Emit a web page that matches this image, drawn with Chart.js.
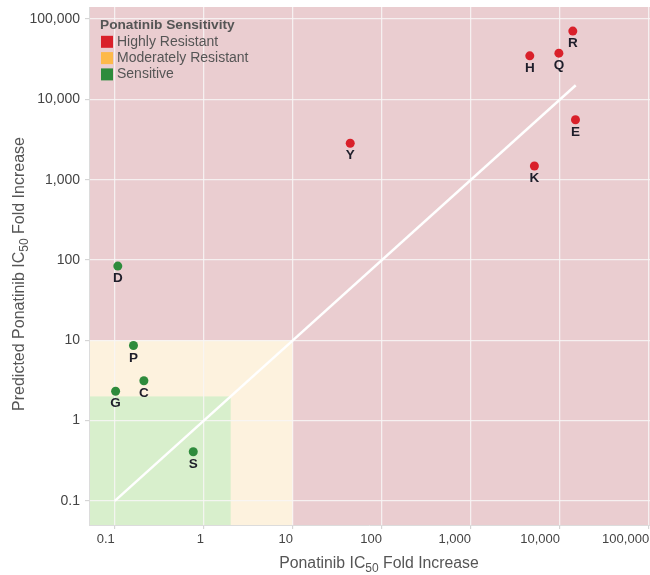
<!DOCTYPE html>
<html><head><meta charset="utf-8">
<script src="https://cdn.jsdelivr.net/npm/chart.js@4/dist/chart.umd.min.js"></script>
<style>
html,body{margin:0;padding:0;background:#fff;overflow:hidden;width:650px;height:575px}
#wrap{position:relative;width:700px;height:575px}
</style>
</head><body><div id="wrap"><canvas id="c"></canvas></div>
<script>
// ---- data ----
const mutations     = ['R', 'Q', 'H', 'E', 'K', 'Y', 'D', 'P', 'C', 'G', 'S'];
const ic50Fold      = [13900, 9700, 4570, 14900, 5150, 44, 0.108, 0.162, 0.212, 0.102, 0.76];
const predictedFold = [70800, 37600, 34800, 5570, 1480, 2840, 84, 8.6, 3.13, 2.32, 0.41];
const sensitivity   = ['Highly Resistant','Highly Resistant','Highly Resistant','Highly Resistant','Highly Resistant','Highly Resistant',
                       'Sensitive','Sensitive','Sensitive','Sensitive','Sensitive'];
const sensitivityClasses = ['Highly Resistant', 'Moderately Resistant', 'Sensitive'];
const classColors   = ['#d9202a', '#fdb94a', '#2e8b3c'];
const tickValues    = [0.1, 1, 10, 100, 1000, 10000, 100000];
const identityLine  = [0.1, 15000];
const moderateCutoff = 10;
const sensitiveCutoff = 2;
const legendTitle = 'Ponatinib Sensitivity';
const xTitleParts = ['Ponatinib IC', '50', ' Fold Increase'];
const yTitleParts = ['Predicted Ponatinib IC', '50', ' Fold Increase'];

const FONT = '"Liberation Sans", Arial, Helvetica, sans-serif';

const scatterSets = sensitivityClasses.map((cls, k) => ({
  type: 'scatter',
  label: cls,
  order: 0,
  data: mutations.map((m, i) => ({x: ic50Fold[i], y: predictedFold[i], label: m}))
                 .filter((p, i) => sensitivity[i] === cls),
  backgroundColor: classColors[k],
  borderColor: classColors[k],
  pointRadius: 4.5,
  pointHoverRadius: 4.5,
  borderWidth: 0
}));

const lineSet = {
  type: 'line',
  label: 'identity',
  order: 10,
  data: identityLine.map(v => ({x: v, y: v})),
  borderColor: '#ffffff',
  borderWidth: 2.5,
  pointRadius: 0,
  fill: false
};

const regionPlugin = {
  id: 'regions',
  beforeDraw(chart) {
    const {ctx, chartArea: a, scales: {x, y}} = chart;
    ctx.save();
    ctx.fillStyle = '#eacdd0';
    ctx.fillRect(a.left, a.top, a.right - a.left, a.bottom - a.top);
    const xm = x.getPixelForValue(moderateCutoff), ym = y.getPixelForValue(moderateCutoff);
    ctx.fillStyle = '#fdf2de';
    ctx.fillRect(a.left, ym, xm - a.left, a.bottom - ym);
    const xs = x.getPixelForValue(sensitiveCutoff), ys = y.getPixelForValue(sensitiveCutoff);
    ctx.fillStyle = '#d8efcc';
    ctx.fillRect(a.left, ys, xs - a.left, a.bottom - ys);
    ctx.restore();
  }
};

function drawSub(ctx, parts, size) {
  const big = size + 'px ' + FONT, small = Math.round(size * 0.78) + 'px ' + FONT;
  ctx.font = big; const w0 = ctx.measureText(parts[0]).width, w2 = ctx.measureText(parts[2]).width;
  ctx.font = small; const w1 = ctx.measureText(parts[1]).width;
  const total = w0 + w1 + w2;
  let cx = -total / 2;
  ctx.textAlign = 'left'; ctx.textBaseline = 'middle';
  ctx.font = big; ctx.fillText(parts[0], cx, 0); cx += w0;
  ctx.font = small; ctx.fillText(parts[1], cx, size * 0.28); cx += w1;
  ctx.font = big; ctx.fillText(parts[2], cx, 0);
}

const annotPlugin = {
  id: 'annot',
  afterDatasetsDraw(chart) {
    const {ctx, chartArea: a} = chart;
    ctx.save();
    // point labels
    ctx.fillStyle = '#1e1e2a';
    ctx.font = 'bold 13.5px ' + FONT;
    ctx.textAlign = 'center'; ctx.textBaseline = 'middle';
    chart.data.datasets.forEach((ds, di) => {
      if (ds.type !== 'scatter') return;
      const meta = chart.getDatasetMeta(di);
      meta.data.forEach((el, i) => {
        ctx.fillText(ds.data[i].label, el.x, el.y + 12.5);
      });
    });
    // legend
    const lx = a.left + 11, ly = 25.5;
    ctx.textAlign = 'left'; ctx.textBaseline = 'middle';
    ctx.fillStyle = '#555';
    ctx.font = 'bold 13.7px ' + FONT;
    ctx.fillText(legendTitle, lx, ly);
    ctx.font = '14px ' + FONT;
    sensitivityClasses.forEach((cls, k) => {
      const yy = ly + 16.3 * (k + 1);
      ctx.fillStyle = classColors[k];
      ctx.fillRect(lx + 1, yy - 6, 12, 12);
      ctx.fillStyle = '#555';
      ctx.fillText(cls, lx + 17, yy);
    });
    ctx.restore();
  },
  afterDraw(chart) {
    const {ctx} = chart;
    ctx.save();
    ctx.fillStyle = '#555';
    ctx.translate(379, 564);
    drawSub(ctx, xTitleParts, 15.8);
    ctx.restore();
    ctx.save();
    ctx.fillStyle = '#555';
    ctx.translate(20, 274);
    ctx.rotate(-Math.PI / 2);
    drawSub(ctx, yTitleParts, 16);
    ctx.restore();
  }
};

const fmt = v => Number(v).toLocaleString('en-US');
const gridOpts = {color: 'rgba(248,246,246,0.85)', lineWidth: 1.3, tickLength: 4, tickColor: '#cfcfcf', tickWidth: 1};

new Chart(document.getElementById('c'), {
  data: {datasets: [...scatterSets, lineSet]},
  options: {
    responsive: true,
    maintainAspectRatio: false,
    animation: false,
    layout: {padding: {top: 7, right: 50, left: 0, bottom: 0}},
    plugins: {legend: {display: false}, tooltip: {enabled: false}},
    scales: {
      x: {
        type: 'logarithmic',
        position: 'bottom',
        min: Math.pow(10, -1.29),
        max: Math.pow(10, 5.01),
        afterBuildTicks: s => { s.ticks = tickValues.map(v => ({value: v})); },
        afterFit: s => { s.height = 50; s.paddingLeft = 0; s.paddingRight = 0; },
        ticks: {callback: fmt, color: '#444', font: {family: FONT, size: 13}, padding: 3, maxRotation: 0, autoSkip: false, align: 'end'},
        grid: gridOpts,
        border: {display: true, color: '#dcdcdc', width: 1}
      },
      y: {
        type: 'logarithmic',
        position: 'left',
        min: Math.pow(10, -1.3),
        max: Math.pow(10, 5.15),
        afterBuildTicks: s => { s.ticks = tickValues.map(v => ({value: v})); },
        afterFit: s => { s.width = 89; s.paddingTop = 0; s.paddingBottom = 0; },
        ticks: {callback: fmt, color: '#444', font: {family: FONT, size: 14}, padding: 5, autoSkip: false},
        grid: gridOpts,
        border: {display: true, color: '#dcdcdc', width: 1}
      }
    }
  },
  plugins: [regionPlugin, annotPlugin]
});
</script>
</body></html>
